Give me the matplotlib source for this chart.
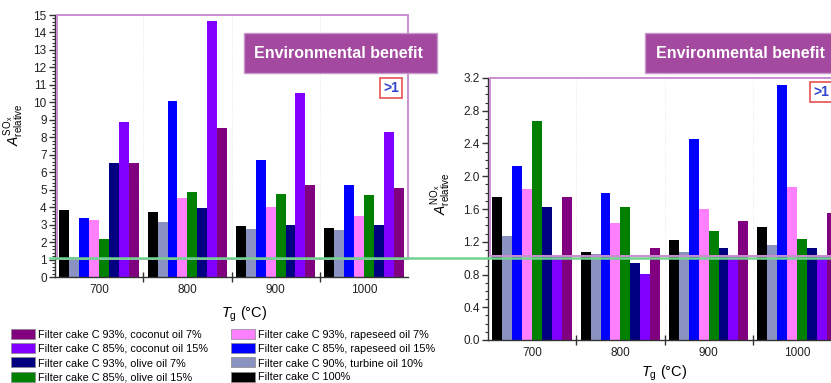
import matplotlib
matplotlib.use("Agg")
from matplotlib import pyplot as plt
from matplotlib.patches import Rectangle, Patch
from matplotlib.lines import Line2D
from matplotlib.ticker import MultipleLocator, FixedLocator, NullFormatter
import numpy as np

plt.rcParams['font.family'] = ['Liberation Sans', 'DejaVu Sans']
plt.rcParams['mathtext.fontset'] = 'custom'
plt.rcParams['mathtext.rm'] = 'Liberation Sans'
plt.rcParams['mathtext.it'] = 'Liberation Sans:italic'

temperatures = ['700', '800', '900', '1000']

# bar order within each temperature group, left to right
series_labels = [
    'Filter cake C 100%',
    'Filter cake C 90%, turbine oil 10%',
    'Filter cake C 85%, rapeseed oil 15%',
    'Filter cake C 93%, rapeseed oil 7%',
    'Filter cake C 85%, olive oil 15%',
    'Filter cake C 93%, olive oil 7%',
    'Filter cake C 85%, coconut oil 15%',
    'Filter cake C 93%, coconut oil 7%',
]
series_colors = ['#000000', '#8a92c2', '#0000ff', '#ff80ff',
                 '#008000', '#000080', '#8000ff', '#800080']

sox_c100 = [3.85, 3.72, 2.92, 2.82]
sox_turbine10 = [1.15, 3.15, 2.72, 2.68]
sox_rapeseed15 = [3.40, 10.05, 6.68, 5.25]
sox_rapeseed7 = [3.25, 4.55, 4.03, 3.48]
sox_olive15 = [2.15, 4.88, 4.73, 4.72]
sox_olive7 = [6.50, 3.93, 2.98, 2.95]
sox_coconut15 = [8.85, 14.65, 10.55, 8.33]
sox_coconut7 = [6.50, 8.55, 5.28, 5.10]

nox_c100 = [1.75, 1.07, 1.22, 1.38]
nox_turbine10 = [1.27, 1.05, 1.07, 1.16]
nox_rapeseed15 = [2.12, 1.79, 2.46, 3.11]
nox_rapeseed7 = [1.84, 1.43, 1.60, 1.87]
nox_olive15 = [2.67, 1.63, 1.33, 1.23]
nox_olive7 = [1.63, 0.94, 1.12, 1.12]
nox_coconut15 = [1.02, 0.81, 1.02, 1.02]
nox_coconut7 = [1.75, 1.12, 1.45, 1.55]

sox_series = [sox_c100, sox_turbine10, sox_rapeseed15, sox_rapeseed7,
              sox_olive15, sox_olive7, sox_coconut15, sox_coconut7]
nox_series = [nox_c100, nox_turbine10, nox_rapeseed15, nox_rapeseed7,
              nox_olive15, nox_olive7, nox_coconut15, nox_coconut7]

BAR_W = 0.1125
BOX_PURPLE = '#a349a0'
FRAME_PURPLE = '#c98fd0'
TICK_COLOR = '#222222'


def draw_bars(ax, series, ymax, major, minor, ylabel, ylab_pos, xlab_pos, fmt):
    x = np.arange(len(temperatures))
    n = len(series)
    for i, values in enumerate(series):
        offset = (i - (n - 1) / 2) * BAR_W
        ax.bar(x + offset, values, BAR_W, color=series_colors[i], zorder=2)
    ax.set_xlim(-0.5, len(temperatures) - 0.5)
    ax.set_ylim(0, ymax)
    for side in ['top', 'right']:
        ax.spines[side].set_visible(False)
    for side in ['left', 'bottom']:
        ax.spines[side].set_color('#333333')
        ax.spines[side].set_linewidth(1.0)
    # group separators as major ticks, temperature labels as minor ticks
    ax.xaxis.set_major_locator(FixedLocator(x[:-1] + 0.5))
    ax.xaxis.set_major_formatter(NullFormatter())
    ax.set_xticks(x, temperatures, minor=True)
    ax.tick_params(axis='x', which='major', direction='inout', length=7,
                   width=1, color='#333333')
    ax.tick_params(axis='x', which='minor', length=0, pad=5,
                   labelsize=8.5, labelcolor=TICK_COLOR)
    ax.yaxis.set_major_locator(MultipleLocator(major))
    ax.yaxis.set_minor_locator(MultipleLocator(minor))
    ax.yaxis.set_major_formatter(fmt)
    ax.tick_params(axis='y', which='major', length=4, width=1,
                   color='#333333', labelsize=8.5, labelcolor=TICK_COLOR, pad=2)
    ax.tick_params(axis='y', which='minor', length=2, width=0.8, color='#333333')
    for xs in x[:-1] + 0.5:
        ax.axvline(xs, color='#e4e4e4', lw=0.6, ls=':', zorder=1)
    ax.set_ylabel(ylabel, fontsize=10)
    ax.yaxis.set_label_coords(*ylab_pos)
    ax.set_xlabel(r'$T_\mathrm{g}$ (°C)', fontsize=10.5)
    ax.xaxis.set_label_coords(*xlab_pos)
    # region above the break-even value
    ax.add_patch(Rectangle((-0.48, 1.03), len(temperatures) - 0.02, ymax - 1.03,
                           fill=False, ec=FRAME_PURPLE, lw=1.4, zorder=3,
                           clip_on=False))


fig = plt.figure(figsize=(8.31, 3.83), dpi=100)
W, H = 831, 383

ax1 = fig.add_axes([55 / W, 1 - 277 / H, 353 / W, 262 / H])
ax2 = fig.add_axes([488 / W, 1 - 340 / H, 353 / W, 262 / H])

draw_bars(ax1, sox_series, 15, 1, 0.2,
          r'$A_{\mathrm{relative}}^{\mathrm{SO_x}}$', (-0.083, 0.58),
          (0.535, -0.105), '{x:.0f}')
draw_bars(ax2, nox_series, 3.2, 0.4, 0.1,
          r'$A_{\mathrm{relative}}^{\mathrm{NO_x}}$', (-0.1, 0.56),
          (0.50, -0.09), '{x:.1f}')

# break-even line across both panels
fig.canvas.draw()
y_disp = ax2.transData.transform((0, 1.0))[1]
y_fig = fig.transFigure.inverted().transform((0, y_disp))[1]
fig.add_artist(Line2D([0.06, 1.0], [y_fig, y_fig], color='#6fd38f',
                      lw=1.8, zorder=5, transform=fig.transFigure))

# "Environmental benefit" banners and ">1" tags
for x0, x1 in [(244, 437), (645, 840)]:
    fig.add_artist(Rectangle((x0 / W, 1 - 73 / H), (x1 - x0) / W, 40 / H,
                             transform=fig.transFigure, fc=BOX_PURPLE,
                             ec='#c898cc', lw=1, zorder=6))
    fig.text((x0 + x1) / 2 / W - 0.003, 1 - 53 / H, 'Environmental benefit',
             color='white', fontsize=11.5, fontweight='bold',
             ha='center', va='center', zorder=7)

for cx, cy in [(391, 88), (821, 92)]:
    fig.text(cx / W, 1 - cy / H, '>1', color='#3344cc', fontsize=10,
             fontweight='bold', ha='center', va='center', zorder=7,
             bbox=dict(boxstyle='square,pad=0.25', fc='white',
                       ec='#e85050', lw=1.2))

legend_order = [7, 6, 5, 4, 3, 2, 1, 0]
handles = [Patch(facecolor=series_colors[i], edgecolor='#888888', lw=0.5,
                 label=series_labels[i]) for i in legend_order]
fig.legend(handles=handles, ncol=2, loc='upper left',
           bbox_to_anchor=(11 / W, 1 - 329 / H), frameon=False, fontsize=7.8,
           handlelength=2.2, handleheight=1.05, labelspacing=0.32,
           handletextpad=0.3, columnspacing=2.1, borderaxespad=0,
           borderpad=0)

fig.savefig('out.png', dpi=100)
